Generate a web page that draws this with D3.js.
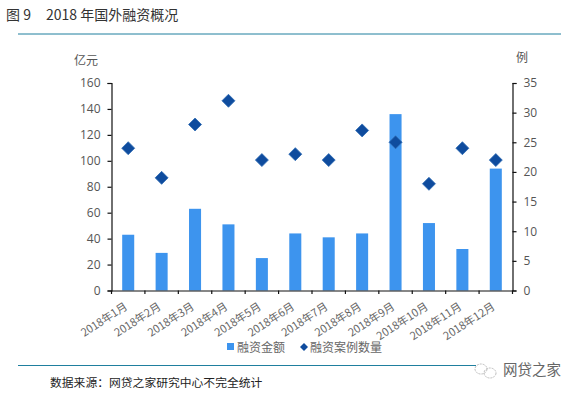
<!DOCTYPE html>
<html>
<head>
<meta charset="utf-8">
<script src="https://cdn.jsdelivr.net/npm/d3@7"></script>
<style>
html,body{margin:0;padding:0;background:#fff;}
svg{display:block;}
text{font-family:"Noto Sans CJK SC","Open Sans",sans-serif;}
.num text{font-family:"Open Sans","Noto Sans",sans-serif;}
</style>
</head>
<body>
<svg id="chart"></svg>
<script>
//values
var months = ["2018年1月","2018年2月","2018年3月","2018年4月","2018年5月","2018年6月",
              "2018年7月","2018年8月","2018年9月","2018年10月","2018年11月","2018年12月"];
var amounts = [43,29,63,51,25,44,41,44,136,52,32,94];
var cases = [24,19,28,32,22,23,22,27,25,18,24,22];
var leftTicks = [0,20,40,60,80,100,120,140,160];
var rightTicks = [0,5,10,15,20,25,30,35];

var screen = {width:577,height:396};
var margins = {left:111.5,right:64.5,top:83,bottom:105.5};
var graph = {
    width:screen.width-margins.left-margins.right,
    height:screen.height-margins.top-margins.bottom
};

var svg = d3.select("#chart")
    .attr("width",screen.width)
    .attr("height",screen.height);

var target = svg.append("g")
    .attr("transform","translate("+margins.left+","+margins.top+")");

var xScale = d3.scaleBand()
    .domain(months)
    .range([0,graph.width])
    .paddingInner(0.64)
    .paddingOuter(0.32);

var yScale = d3.scaleLinear().domain([0,160]).range([graph.height,0]);
var yScale2 = d3.scaleLinear().domain([0,35]).range([graph.height,0]);

target.selectAll("rect.bar")
    .data(months)
    .enter()
    .append("rect")
    .attr("class","bar")
    .attr("fill","#3d94ee")
    .attr("x",function(d){return xScale(d);})
    .attr("width",xScale.bandwidth())
    .attr("y",function(d,i){return yScale(amounts[i]);})
    .attr("height",function(d,i){return graph.height-yScale(amounts[i]);});

target.selectAll("path.point")
    .data(months)
    .enter()
    .append("path")
    .attr("class","point")
    .attr("d","M0,-6.5L6.5,0L0,6.5L-6.5,0Z")
    .attr("fill","#0f4c9e")
    .attr("stroke","#2f6cb4")
    .attr("stroke-width",0.8)
    .attr("transform",function(d,i){
        return "translate("+(xScale(d)+xScale.bandwidth()/2)+","+yScale2(cases[i])+")";
    });

//axes
var styleAxis = function(g)
{
    g.selectAll("path,line").attr("stroke","#111").attr("stroke-width",1.2);
    g.selectAll("text").attr("fill","#555").style("font-size","12px");
};

var left = target.append("g")
    .attr("class","num")
    .call(d3.axisLeft(yScale).tickValues(leftTicks).tickSize(4).tickSizeOuter(4).tickPadding(7))
    .call(styleAxis);

var right = target.append("g")
    .attr("class","num")
    .attr("transform","translate("+graph.width+",0)")
    .call(d3.axisRight(yScale2).tickValues(rightTicks).tickSize(4).tickSizeOuter(4).tickPadding(7))
    .call(styleAxis);

var bottom = target.append("g")
    .attr("transform","translate(0,"+graph.height+")")
    .call(d3.axisBottom(xScale).tickSize(0).tickFormat(function(d){return d;}))
    .call(styleAxis);

//ticks sit between the categories, not on them
var step = graph.width/months.length;
d3.range(months.length+1).forEach(function(i){
    bottom.append("line")
        .attr("x1",i*step).attr("x2",i*step)
        .attr("y1",0).attr("y2",3.5)
        .attr("stroke","#111").attr("stroke-width",1.2);
});

bottom.selectAll(".tick text")
    .attr("text-anchor","end")
    .attr("dy",0)
    .attr("transform","translate(0,18) rotate(-33)")
    .attr("y",0)
    .attr("x",0)
    .attr("fill","#666")
    .style("font-size","11px");

//labels
var labels = svg.append("g");

labels.append("text").text("图 9").attr("x",6).attr("y",20)
    .attr("fill","#333").style("font-size","14px");
labels.append("text").text("2018 年国外融资概况").attr("x",46).attr("y",20)
    .attr("fill","#333").style("font-size","14px");

labels.append("text").text("亿元").attr("x",74).attr("y",65)
    .attr("fill","#555").style("font-size","12px");
labels.append("text").text("例").attr("x",516).attr("y",62)
    .attr("fill","#555").style("font-size","12px");

labels.append("line").attr("x1",18).attr("x2",561).attr("y1",34).attr("y2",34)
    .attr("stroke","#1f7f9e").attr("stroke-width",1);
labels.append("line").attr("x1",18).attr("x2",476).attr("y1",365.5).attr("y2",365.5)
    .attr("stroke","#1f7f9e").attr("stroke-width",1);

labels.append("text").text("数据来源：网贷之家研究中心不完全统计").attr("x",50).attr("y",387)
    .attr("fill","#222").style("font-size","11.8px");

//legend
labels.append("rect").attr("x",227).attr("y",343).attr("width",7).attr("height",7)
    .attr("fill","#3d94ee");
labels.append("text").text("融资金额").attr("x",237).attr("y",352)
    .attr("fill","#666").style("font-size","12px");
labels.append("path").attr("d","M304,343L308,347L304,351L300,347Z").attr("fill","#0f4c9e");
labels.append("text").text("融资案例数量").attr("x",310).attr("y",352)
    .attr("fill","#666").style("font-size","12px");

//watermark
var mark = labels.append("g").attr("fill","none").attr("stroke","#bbb").attr("stroke-width",1);
mark.append("ellipse").attr("cx",481).attr("cy",369).attr("rx",6).attr("ry",5).attr("stroke-dasharray","2,1");
mark.append("ellipse").attr("cx",490).attr("cy",373).attr("rx",6).attr("ry",5).attr("stroke-dasharray","2,1");
labels.append("text").text("网贷之家").attr("x",503).attr("y",375)
    .attr("fill","#666").style("font-size","14.5px");
</script>
</body>
</html>
